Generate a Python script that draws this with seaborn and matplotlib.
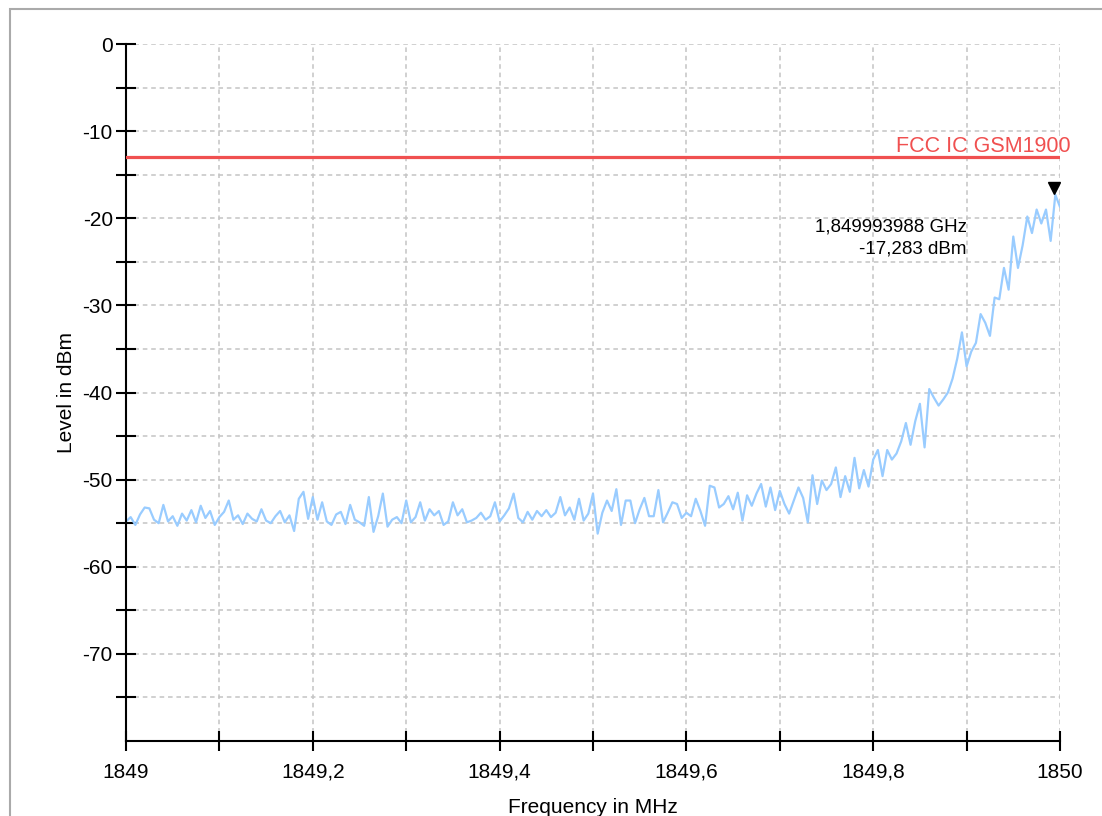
import numpy as np
import matplotlib
matplotlib.use('Agg')
import matplotlib.pyplot as plt
import seaborn as sns
from matplotlib.ticker import FixedLocator, FuncFormatter
from matplotlib.transforms import offset_copy

# sweep settings and trace
freq_start = 1849.0
freq_stop = 1850.0
level = [
    -54.8, -54.3, -55.2, -54.0, -53.2, -53.3, -54.6, -55.0, -52.9, -54.8,
    -54.2, -55.3, -53.9, -54.7, -53.5, -54.9, -53.0, -54.4, -53.6, -55.2,
    -54.3, -53.7, -52.4, -54.6, -54.1, -55.1, -53.9, -54.5, -54.8, -53.4,
    -54.7, -55.0, -54.2, -53.6, -54.9, -54.1, -55.9, -52.2, -51.4, -54.5,
    -52.0, -54.6, -52.6, -54.8, -55.2, -54.0, -53.7, -55.1, -52.9, -54.6,
    -54.9, -55.3, -52.0, -56.0, -54.2, -51.6, -55.4, -54.6, -54.3, -55.0,
    -52.4, -54.9, -54.3, -52.6, -54.7, -53.4, -54.1, -53.6, -55.2, -54.8,
    -52.6, -54.1, -53.4, -54.9, -54.7, -54.4, -53.8, -54.6, -54.2, -52.6,
    -54.8, -54.1, -53.3, -51.6, -54.4, -54.9, -53.7, -54.6, -53.6, -54.2,
    -53.5, -54.3, -53.8, -52.0, -54.1, -53.2, -54.6, -52.2, -54.7, -53.9,
    -51.6, -56.2, -53.8, -52.4, -53.6, -51.1, -55.2, -52.4, -52.4, -55.0,
    -53.4, -52.1, -54.2, -54.2, -51.2, -54.9, -53.8, -52.6, -52.8, -54.4,
    -53.8, -54.2, -52.2, -53.6, -55.3, -50.7, -50.9, -53.2, -52.8, -51.9,
    -53.4, -51.5, -54.7, -51.8, -53.0, -51.6, -50.5, -53.1, -50.9, -53.5,
    -51.3, -52.8, -53.9, -52.4, -50.9, -52.1, -54.9, -49.5, -52.8, -50.1,
    -51.2, -50.5, -48.6, -52.0, -49.6, -51.4, -47.5, -51.0, -48.9, -50.8,
    -47.7, -46.6, -49.6, -46.6, -47.7, -47.0, -45.6, -43.5, -46.0, -43.3,
    -41.3, -46.3, -39.6, -40.6, -41.5, -40.8, -40.0, -38.4, -36.1, -33.1,
    -37.0, -35.3, -34.3, -31.0, -32.0, -33.5, -29.1, -29.3, -25.7, -28.2,
    -22.1, -25.7, -23.1, -19.8, -21.7, -19.0, -20.6, -19.0, -22.6, -17.3,
    -18.7,
]
freq = np.linspace(freq_start, freq_stop, len(level))

limit_level = -13.0
limit_name = 'FCC IC GSM1900'
marker_freq = 1849.993988
marker_level = -17.283

x_major = [1849.0, 1849.2, 1849.4, 1849.6, 1849.8, 1850.0]
x_minor = [1849.1, 1849.3, 1849.5, 1849.7, 1849.9]
y_major = [-70, -60, -50, -40, -30, -20, -10, 0]
y_minor = [-75, -65, -55, -45, -35, -25, -15, -5]

sns.set_theme(style='white')
plt.rcParams['font.family'] = ['Liberation Sans', 'DejaVu Sans']
plt.rcParams['axes.unicode_minus'] = False
plt.rcParams['text.color'] = 'black'

fig = plt.figure(figsize=(11.02, 8.16), dpi=100)
ax = fig.add_axes([126 / 1102, 1 - 741 / 816, 934 / 1102, 697 / 816])

# trace
sns.lineplot(x=freq, y=level, ax=ax, color='#99ccff', lw=1.6)

# limit line
ax.axhline(limit_level, color='#f05050', lw=2.3, zorder=3)
ax.text(1, limit_level, limit_name, color='#f05050', fontsize=15.5,
        ha='right', va='bottom',
        transform=offset_copy(ax.get_yaxis_transform(), fig=fig, x=8, y=0, units='points'))

# peak marker
ax.plot(marker_freq, marker_level, marker='v', ms=9, color='black', ls='none',
        transform=offset_copy(ax.transData, fig=fig, y=5, units='points'), zorder=4)
ax.text(1849.9, -21.5, f'{marker_freq / 1000:.9f} GHz'.replace('.', ','),
        fontsize=13.5, ha='right', va='baseline', color='black')
ax.text(1849.9, -24.1, f'{marker_level:.3f} dBm'.replace('.', ','),
        fontsize=13.5, ha='right', va='baseline', color='black')

ax.set_xlim(freq_start, freq_stop)
ax.set_ylim(-80, 0)

ax.xaxis.set_major_locator(FixedLocator(x_major))
ax.xaxis.set_minor_locator(FixedLocator(x_minor))
ax.yaxis.set_major_locator(FixedLocator(y_major))
ax.yaxis.set_minor_locator(FixedLocator(y_minor))
ax.xaxis.set_major_formatter(FuncFormatter(lambda v, p: f'{round(v, 1):g}'.replace('.', ',')))
ax.yaxis.set_major_formatter(FuncFormatter(lambda v, p: f'{v:g}'))

ax.tick_params(which='both', direction='inout', length=15, width=1.5,
               color='black', labelsize=15, labelcolor='black',
               bottom=True, left=True)
ax.tick_params(axis='x', which='both', pad=8)
ax.tick_params(axis='y', which='both', pad=2)

ax.grid(which='both', ls=(0, (3, 2.5)), color='#c4c4c4', lw=1.1)
ax.set_axisbelow(True)

for side in ['top', 'right']:
    ax.spines[side].set_visible(False)
for side in ['left', 'bottom']:
    ax.spines[side].set_color('black')
    ax.spines[side].set_linewidth(1.5)

ax.set_xlabel('Frequency in MHz', fontsize=15, labelpad=12, color='black')
ax.set_ylabel('Level in dBm', fontsize=15, labelpad=5, color='black')

# light frame around the screenshot area
fig.add_artist(plt.Rectangle((10 / 1102, -0.1), 1.2, 1.1 - 9 / 816,
                             transform=fig.transFigure, fill=False,
                             ec='#aaaaaa', lw=1.5))

fig.savefig('out.png', dpi=100)
